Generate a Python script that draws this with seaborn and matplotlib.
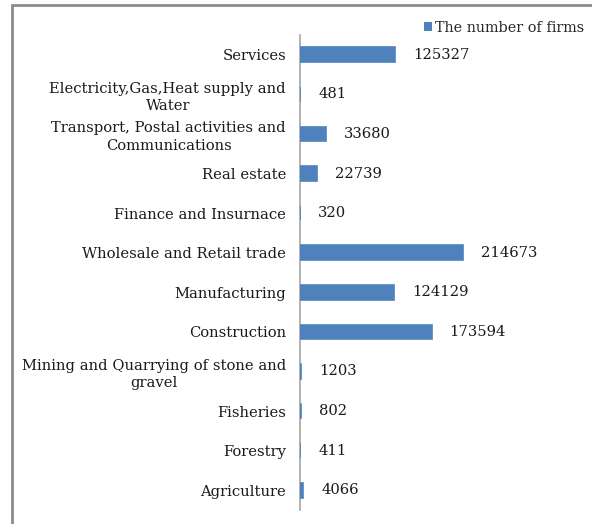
import matplotlib
matplotlib.use("Agg")
import matplotlib.pyplot as plt
import seaborn as sns
import pandas as pd
from matplotlib.lines import Line2D
from matplotlib.patches import Patch

categories = [
    "Services",
    "Electricity,Gas,Heat supply and\nWater",
    "Transport, Postal activities and\nCommunications",
    "Real estate",
    "Finance and Insurnace",
    "Wholesale and Retail trade",
    "Manufacturing",
    "Construction",
    "Mining and Quarrying of stone and\ngravel",
    "Fisheries",
    "Forestry",
    "Agriculture",
]
firms = [125327, 481, 33680, 22739, 320, 214673, 124129, 173594, 1203, 802, 411, 4066]
series_name = "The number of firms"

df = pd.DataFrame({"category": categories, "firms": firms})

sns.set_theme(style="white")
plt.rcParams["font.family"] = ["DejaVu Serif"]

W, H = 592, 524
fig = plt.figure(figsize=(W / 100, H / 100), dpi=100)
ax = fig.add_axes([300 / W, (H - 510) / H, 197 / W, 475 / H])

bar_color = "#4F81BD"
sns.barplot(data=df, y="category", x="firms", orient="h", color=bar_color,
            width=0.37, saturation=1, ax=ax, edgecolor=bar_color, linewidth=1.2)

ax.set_xlim(0, 260000)
ax.set_ylim(len(categories) - 0.5, -0.5)
ax.set_xlabel("")
ax.set_ylabel("")
ax.set_xticks([])
for s in ["top", "right", "bottom"]:
    ax.spines[s].set_visible(False)
ax.spines["left"].set_color("#A6A6A6")
ax.spines["left"].set_linewidth(1.2)
ax.spines["left"].set_zorder(0)
ax.tick_params(axis="y", length=0, pad=10, labelsize=10.6, labelcolor="#1a1a1a")
for lab in ax.get_yticklabels():
    lab.set_multialignment("center")
    lab.set_linespacing(1.3)

for i, v in enumerate(firms):
    ax.annotate(f"{v}", xy=(v, i), xytext=(13, 0), textcoords="offset points",
                ha="left", va="center", fontsize=10.6, color="#1a1a1a")

# legend
fig.legend(handles=[Patch(facecolor=bar_color, edgecolor="none")],
           labels=[series_name], loc="upper left",
           bbox_to_anchor=(424 / W, 1 - 21 / H), frameon=False,
           fontsize=10.4, handlelength=0.55, handleheight=0.6,
           handletextpad=0.2, borderaxespad=0, borderpad=0)

# outer frame (partially cut off)
fig.add_artist(Line2D([12 / W, 12 / W], [0, 1 - 5 / H], transform=fig.transFigure,
                      color="#8C8C8C", linewidth=2))
fig.add_artist(Line2D([12 / W, 1], [1 - 5 / H, 1 - 5 / H], transform=fig.transFigure,
                      color="#8C8C8C", linewidth=2))

fig.savefig("out.png", dpi=100, facecolor="white")
